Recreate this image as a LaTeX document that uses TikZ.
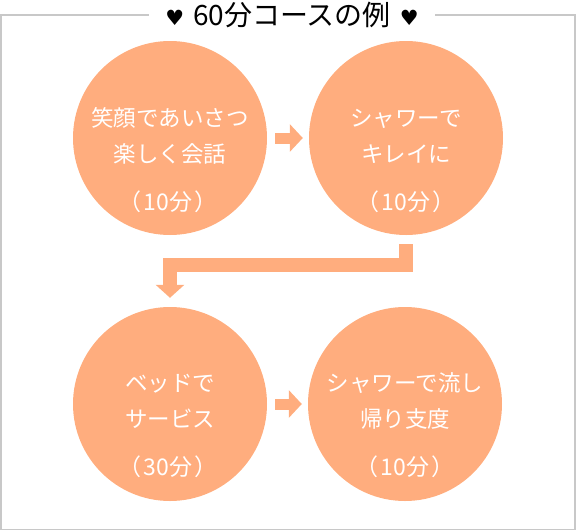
\documentclass[tikz,border=0pt]{standalone}
\usepackage{fontspec}
\setmainfont{Noto Sans CJK JP}
\newfontfamily\symfont{DejaVu Sans}
\usetikzlibrary{arrows.meta}
\definecolor{salmon}{HTML}{FFAD7E}
\definecolor{framegray}{HTML}{C8C8C8}
\newcommand{\heartmark}{{\symfont\fontsize{21}{24}\selectfont ♥}}

\begin{document}
\begin{tikzpicture}[
            x=1pt, y=-1pt,
            stepcircle/.style={
                circle,
                fill=salmon,
                minimum size=194pt,
                inner sep=0pt
            },
            steptext/.style={
                text=white,
                align=center,
                font=\fontsize{22.5}{36}\selectfont
            },
            steptime/.style={steptext, font=\fontsize{23}{36}\selectfont},
            smallarrow/.style={
                draw=salmon,
                line width=11pt,
                -{Triangle[length=13pt,width=27pt]},
                shorten <=8pt, shorten >=6pt
            },
            bigarrow/.style={
                draw=salmon,
                line width=14pt,
                line join=miter,
                -{Triangle[length=13pt,width=28pt]},
                shorten <=9pt, shorten >=9pt
            },
            title/.style={fill=white, inner xsep=16pt, font=\fontsize{28}{32}\selectfont}
        ]
        \useasboundingbox (0,0) rectangle (576,531);

        \draw[framegray, line width=1.5pt] (1,15) rectangle (575,529.5);
        \node[title] (head) at (292,15) {\heartmark\hspace{9pt}60分コースの例\hspace{9pt}\heartmark};

        \node[stepcircle] (c1) at (170,138) {};
        \node[stepcircle] (c2) at (406,138) {};
        \node[stepcircle] (c3) at (170,404) {};
        \node[stepcircle] (c4) at (405,404) {};

        \node[steptext] (t1) at (170,136) {笑顔であいさつ\\楽しく会話};
        \node[steptime] (m1) at (168,202) {（\hspace{2pt}10分\hspace{2pt}）};
        \node[steptext] (t2) at (406,136) {シャワーで\\キレイに};
        \node[steptime] (m2) at (406,202) {（\hspace{2pt}10分\hspace{2pt}）};
        \node[steptext] (t3) at (170,401) {ベッドで\\サービス};
        \node[steptime] (m3) at (168,467) {（\hspace{2pt}30分\hspace{2pt}）};
        \node[steptext] (t4) at (405,401) {シャワーで流し\\帰り支度};
        \node[steptime] (m4) at (405,467) {（\hspace{2pt}10分\hspace{2pt}）};

        \draw[smallarrow] (c1.east) -- (c2.west);
        \draw[smallarrow] (c3.east) -- (c4.west);
        \draw[bigarrow] (c2.south) -- (c2.south |- 0,265) -| (c3.north);
        \end{tikzpicture}
\end{document}
